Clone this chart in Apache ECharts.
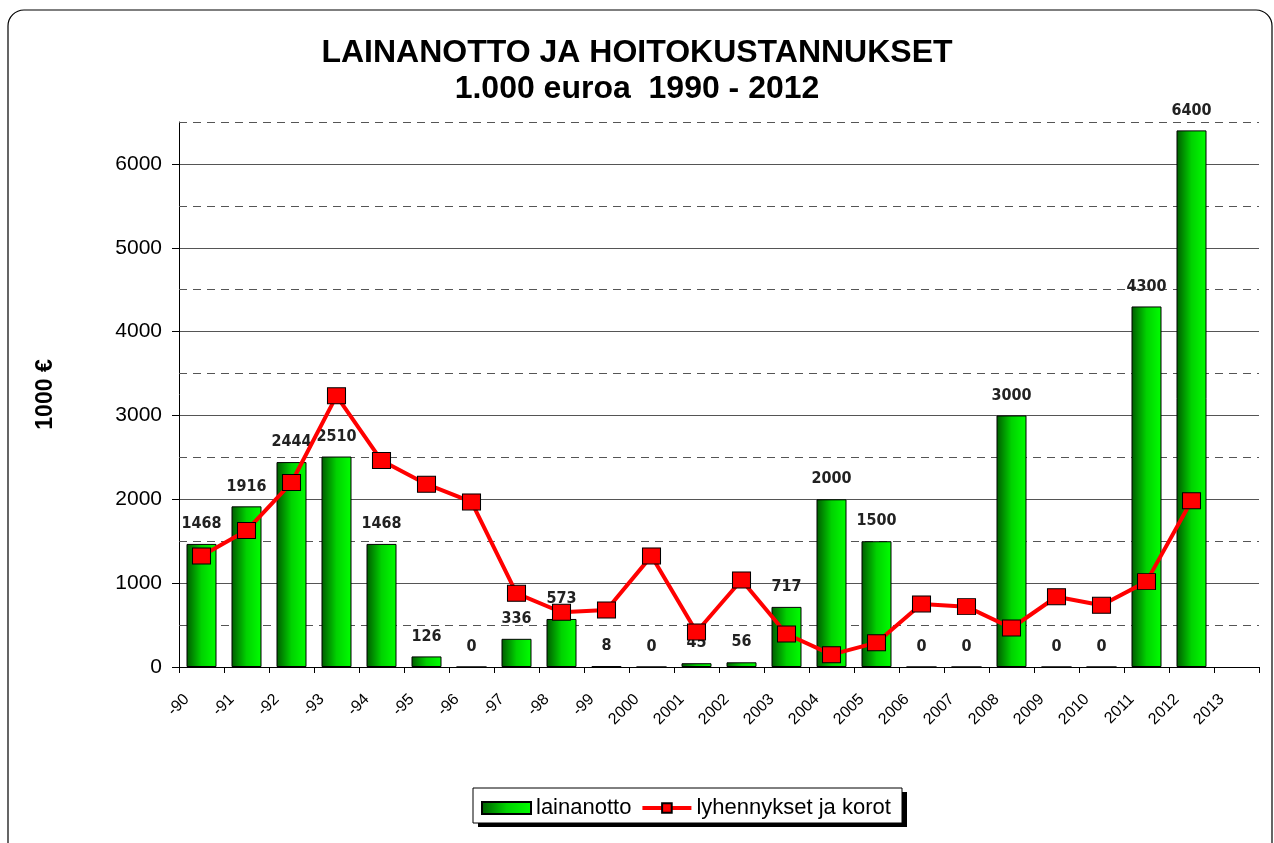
<!DOCTYPE html>
<html>
<head>
<meta charset="utf-8">
<script src="https://cdn.jsdelivr.net/npm/echarts@6/dist/echarts.min.js"></script>
<style>
  html, body { margin: 0; padding: 0; background: #fff; }
  #chart { width: 1274px; height: 843px; }
</style>
</head>
<body>
<div id="chart"></div>
<script>
  // vuodet (viimeinen sarake tyhjä)
  var years = ['-90', '-91', '-92', '-93', '-94', '-95', '-96', '-97', '-98', '-99',
    '2000', '2001', '2002', '2003', '2004', '2005', '2006', '2007', '2008', '2009',
    '2010', '2011', '2012', '2013']
  var lainanotto = [1468, 1916, 2444, 2510, 1468, 126, 0, 336, 573, 8,
    0, 45, 56, 717, 2000, 1500, 0, 0, 3000, 0,
    0, 4300, 6400, '-']
  var lyhennykset = [1325, 1627, 2200, 3234, 2462, 2180, 1969, 879, 653, 680,
    1325, 418, 1038, 394, 147, 290, 752, 720, 465, 838,
    736, 1018, 1982, '-']
  var majorTicks = [0, 1000, 2000, 3000, 4000, 5000, 6000]
  var minorLines = [500, 1500, 2500, 3500, 4500, 5500, 6500]

  var chart = echarts.init(document.getElementById('chart'))

  var option = {
    backgroundColor: '#fff',
    animation: false,
    title: {
      text: 'LAINANOTTO JA HOITOKUSTANNUKSET\n1.000 euroa  1990 - 2012',
      left: 'center',
      top: 30,
      textStyle: {
        fontFamily: 'Liberation Sans',
        fontWeight: 'bold',
        fontSize: 32,
        lineHeight: 36,
        color: '#000'
      }
    },
    graphic: [
      {
        type: 'rect',
        shape: { x: 8, y: 10, width: 1264, height: 860, r: 16 },
        style: { fill: 'none', stroke: '#000', lineWidth: 1.2 },
        silent: true
      },
      // legendin laatikko ja varjo
      {
        type: 'rect',
        shape: { x: 478, y: 792, width: 429, height: 35 },
        style: { fill: '#000' },
        silent: true
      },
      {
        type: 'rect',
        shape: { x: 473, y: 788, width: 429, height: 35 },
        style: { fill: '#fff', stroke: '#000', lineWidth: 1 },
        silent: true
      }
    ],
    legend: {
      left: 473,
      top: 788,
      padding: [9, 6, 7, 8],
      itemGap: 9,
      itemWidth: 49,
      itemHeight: 12,
      textStyle: {
        fontFamily: 'Liberation Sans',
        fontSize: 22,
        color: '#000'
      },
      data: [
        { name: 'lainanotto', icon: 'rect' },
        { name: 'lyhennykset ja korot', lineStyle: { width: 4 } }
      ]
    },
    grid: {
      left: 179,
      right: 15,
      top: 122,
      bottom: 176,
      containLabel: false
    },
    xAxis: {
      type: 'category',
      data: years,
      axisLine: { lineStyle: { color: '#000', width: 1 } },
      axisTick: { show: true, length: 6, lineStyle: { color: '#000' } },
      axisLabel: {
        rotate: 45,
        margin: 15,
        padding: [0, 21, 0, 0],
        fontFamily: 'Liberation Sans',
        fontSize: 16,
        color: '#000'
      }
    },
    yAxis: {
      type: 'value',
      min: 0,
      max: 6500,
      interval: 500,
      name: '1000 €',
      nameLocation: 'middle',
      nameRotate: 90,
      nameGap: 122,
      nameTextStyle: {
        fontFamily: 'Liberation Sans',
        fontWeight: 'bold',
        fontSize: 23,
        color: '#000'
      },
      axisLine: { show: true, lineStyle: { color: '#000', width: 1 } },
      axisTick: {
        show: true,
        length: 7,
        customValues: majorTicks,
        lineStyle: { color: '#000' }
      },
      axisLabel: {
        customValues: majorTicks,
        formatter: function (v) { return v % 1000 === 0 ? String(v) : '' },
        margin: 17,
        fontFamily: 'Liberation Sans',
        fontSize: 21,
        color: '#000'
      },
      splitLine: {
        show: true,
        lineStyle: { color: '#555', type: 'solid', width: 1 }
      }
    },
    series: [
      {
        name: 'lainanotto',
        type: 'bar',
        barWidth: 30,
        z: 2,
        itemStyle: {
          color: new echarts.graphic.LinearGradient(0, 0, 1, 0, [
            { offset: 0, color: '#005a00' },
            { offset: 0.5, color: '#00d200' },
            { offset: 1, color: '#00ff00' }
          ]),
          borderColor: '#000',
          borderWidth: 1
        },
        label: {
          show: true,
          position: 'top',
          distance: 12,
          fontFamily: 'DejaVu Sans Condensed',
          fontWeight: 'bold',
          fontSize: 16,
          color: '#222'
        },
        data: lainanotto
      },
      {
        name: 'lyhennykset ja korot',
        type: 'line',
        z: 5,
        symbol: 'rect',
        symbolSize: [18, 16],
        lineStyle: { color: '#ff0000', width: 4 },
        itemStyle: { color: '#ff0000', borderColor: '#000', borderWidth: 1 },
        markLine: {
          z: 1,
          silent: true,
          symbol: 'none',
          label: { show: false },
          lineStyle: { color: '#555', type: [8, 6], width: 1 },
          data: minorLines.map(function (v) { return { yAxis: v } })
        },
        data: lyhennykset
      }
    ]
  }

  chart.setOption(option)
</script>
</body>
</html>
